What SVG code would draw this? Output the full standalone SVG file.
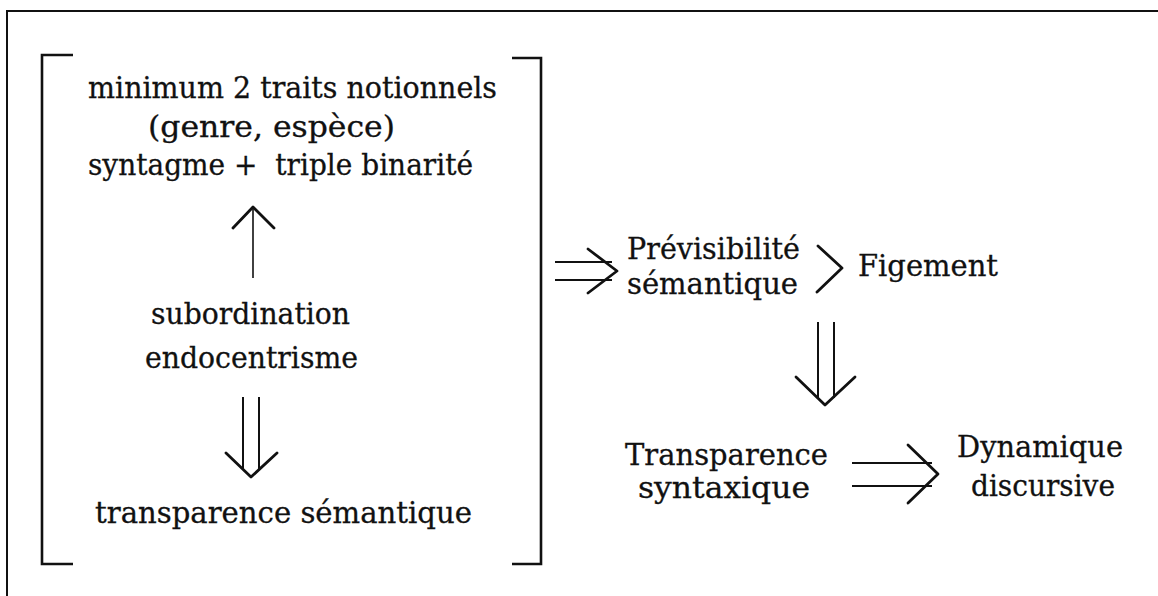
<svg xmlns="http://www.w3.org/2000/svg" width="1158" height="596" viewBox="0 0 1158 596">
  <style>
    .lbl { font-family: "DejaVu Serif", "Liberation Serif", serif; font-size: 29px; fill: #111; stroke: #111; stroke-width: 0.3; }
    .frame { fill: none; stroke: #111; stroke-width: 2; }
    .brk { fill: none; stroke: #111; stroke-width: 2.6; }
    .arr { fill: none; stroke: #111; stroke-width: 2.8; stroke-linecap: round; stroke-linejoin: round; }
    .shaft { fill: none; stroke: #111; stroke-width: 2; }
    .thin { stroke-width: 1.6; }
  </style>

  <rect width="1158" height="596" fill="#fff"/>

  <!-- page frame: top and left edges only -->
  <g id="frame">
    <path class="frame" d="M7 596 V11 H1158"/>
  </g>

  <!-- square brackets enclosing the left-hand group -->
  <g id="brackets">
    <path class="brk" d="M73 55 H42 V564 H73"/>
    <path class="brk" d="M512 58 H541 V564 H512"/>
  </g>

  <g id="node-traits">
    <text class="lbl" x="88" y="98" textLength="409" lengthAdjust="spacingAndGlyphs">minimum 2 traits notionnels</text>
    <text class="lbl" x="148" y="137" textLength="247" lengthAdjust="spacingAndGlyphs">(genre, espèce)</text>
    <text class="lbl" x="88" y="175" textLength="385" lengthAdjust="spacingAndGlyphs" xml:space="preserve">syntagme +  triple binarité</text>
  </g>

  <g id="node-subordination">
    <text class="lbl" x="151" y="324" textLength="199" lengthAdjust="spacingAndGlyphs">subordination</text>
    <text class="lbl" x="145" y="368" textLength="213" lengthAdjust="spacingAndGlyphs">endocentrisme</text>
  </g>

  <g id="node-transparence-semantique">
    <text class="lbl" x="95" y="523" textLength="377" lengthAdjust="spacingAndGlyphs">transparence sémantique</text>
  </g>

  <g id="node-previsibilite">
    <text class="lbl" x="627" y="259" textLength="173" lengthAdjust="spacingAndGlyphs">Prévisibilité</text>
    <text class="lbl" x="627" y="294" textLength="171" lengthAdjust="spacingAndGlyphs">sémantique</text>
  </g>

  <g id="node-figement">
    <text class="lbl" x="858" y="276" textLength="140" lengthAdjust="spacingAndGlyphs">Figement</text>
  </g>

  <g id="node-transparence-syntaxique">
    <text class="lbl" x="625" y="465" textLength="203" lengthAdjust="spacingAndGlyphs">Transparence</text>
    <text class="lbl" x="638" y="498" textLength="172" lengthAdjust="spacingAndGlyphs">syntaxique</text>
  </g>

  <g id="node-dynamique">
    <text class="lbl" x="957" y="457" textLength="166" lengthAdjust="spacingAndGlyphs">Dynamique</text>
    <text class="lbl" x="971" y="496" textLength="144" lengthAdjust="spacingAndGlyphs">discursive</text>
  </g>

  <g id="connectors">
    <!-- subordination -> syntagme (single arrow up) -->
    <path class="shaft thin" d="M253 278 V208"/>
    <path class="arr" d="M233 228 L253 207 L274 228"/>

    <!-- subordination => transparence semantique -->
    <path class="shaft" d="M243 397 V469 M259 397 V469"/>
    <path class="arr" d="M226 453 L251 477 L277 453"/>

    <!-- bracket group => Previsibilite -->
    <path class="shaft" d="M555 262 H612 M555 280 H612"/>
    <path class="arr" d="M588 249 L617 271 L588 293"/>

    <!-- Previsibilite > Figement -->
    <path class="arr" d="M818 246 L842 268 L817 292"/>

    <!-- Figement => Transparence syntaxique -->
    <path class="shaft" d="M818 322 V398 M834 322 V398"/>
    <path class="arr" d="M796 377 L825 405 L855 377"/>

    <!-- Transparence syntaxique => Dynamique discursive -->
    <path class="shaft" d="M852 463 H932 M852 486 H932"/>
    <path class="arr" d="M908 445 L938 474 L908 503"/>
  </g>
</svg>
